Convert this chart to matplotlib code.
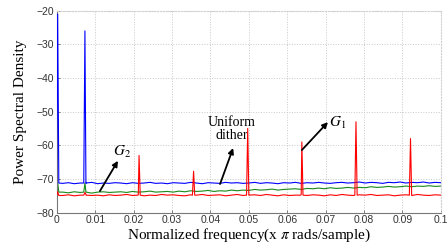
import numpy as np
import matplotlib
matplotlib.use('Agg')
import matplotlib.pyplot as plt

plt.rcParams['mathtext.fontset'] = 'stix'

# noise floor of each PSD trace, sampled on an even frequency grid
floor_freq = np.linspace(0.0015, 0.1, 66)

blue_floor = [-71.3, -71.1, -71.4, -71.2, -71.3, -71.0, -71.4, -71.2, -71.3, -71.1,
              -71.2, -71.4, -71.1, -71.3, -71.2, -71.0, -71.3, -71.2, -71.4, -71.1,
              -71.2, -71.3, -71.0, -71.2, -71.4, -71.1, -71.2, -71.3, -71.0, -71.2,
              -71.1, -71.3, -71.2, -71.0, -71.3, -71.1, -71.2, -71.4, -71.1, -71.2,
              -71.0, -71.3, -71.1, -71.2, -71.0, -71.2, -71.3, -71.1, -71.0, -71.2,
              -71.1, -70.9, -71.2, -71.0, -71.1, -71.3, -71.0, -71.1, -70.9, -71.2,
              -71.0, -71.1, -70.9, -71.2, -71.0, -71.1]

green_floor = [-73.9, -74.1, -73.8, -74.0, -73.9, -74.2, -73.9, -73.8, -74.0, -73.9,
               -73.8, -74.0, -73.7, -73.9, -73.8, -73.6, -73.9, -73.8, -73.7, -73.9,
               -73.6, -73.8, -73.5, -73.7, -73.6, -73.4, -73.7, -73.5, -73.6, -73.3,
               -73.5, -73.3, -73.4, -73.1, -73.3, -73.2, -73.0, -73.3, -73.1, -73.0,
               -72.9, -73.1, -72.8, -72.9, -72.7, -72.9, -72.6, -72.8, -72.7, -72.5,
               -72.7, -72.5, -72.6, -72.3, -72.5, -72.4, -72.2, -72.4, -72.3, -72.1,
               -72.3, -72.1, -72.2, -72.0, -72.2, -72.1]

red_floor = [-74.9, -74.7, -75.0, -74.8, -74.6, -74.9, -74.8, -75.0, -74.7, -74.9,
             -74.8, -74.6, -74.9, -74.7, -75.0, -74.8, -74.9, -74.6, -74.8, -74.7,
             -74.9, -75.0, -74.7, -74.8, -74.6, -74.9, -74.8, -74.7, -75.0, -74.8,
             -74.6, -74.9, -74.8, -74.7, -74.9, -74.6, -74.8, -75.0, -74.7, -74.9,
             -74.8, -74.6, -74.9, -74.7, -74.8, -75.0, -74.7, -74.9, -74.6, -74.8,
             -74.9, -74.7, -74.8, -74.6, -74.9, -74.8, -74.7, -75.0, -74.8, -74.7,
             -74.9, -74.6, -74.8, -74.9, -74.7, -74.8]

# spectral lines: (frequency, peak level, floor level at the line)
blue_peaks = [(0.0002, -21.0, -71.2), (0.0073, -26.0, -71.2)]
green_peaks = [(0.0002, -71.0, -73.9), (0.0073, -71.2, -73.9)]
red_peaks = [(0.0002, -73.8, -74.9), (0.0073, -74.0, -74.8),
             (0.0214, -63.0, -74.8), (0.0356, -67.7, -74.8), (0.0497, -55.0, -74.8),
             (0.0638, -59.0, -74.8), (0.0779, -53.0, -74.8), (0.0921, -58.0, -74.8)]

xticks = [0, 0.01, 0.02, 0.03, 0.04, 0.05, 0.06, 0.07, 0.08, 0.09, 0.1]
xticklabels = ['0', '0.01', '0.02', '0.03', '0.04', '0.05', '0.06', '0.07', '0.08', '0.09', '0.1']
yticks = [-80, -70, -60, -50, -40, -30, -20]


def trace(floor, peaks, hw=0.0003):
    xs = list(floor_freq)
    ys = list(floor)
    for f, top, base in peaks:
        xs += [f - hw, f, f + hw]
        ys += [base, top, base]
    order = np.argsort(xs, kind='stable')
    return np.asarray(xs)[order], np.asarray(ys)[order]


fig = plt.figure(figsize=(4.48, 2.49), dpi=100)
ax = fig.add_axes([0.127, 0.146, 0.857, 0.811])

for floor, peaks, col, z in [(green_floor, green_peaks, '#1a8a1a', 2),
                             (blue_floor, blue_peaks, '#0000ff', 3),
                             (red_floor, red_peaks, '#ff0000', 4)]:
    x, y = trace(floor, peaks)
    ax.plot(x, y, color=col, lw=0.8, zorder=z)

ax.set_xlim(0, 0.1)
ax.set_ylim(-80, -20)
ax.set_xticks(xticks)
ax.set_xticklabels(xticklabels)
ax.set_yticks(yticks)
ax.grid(True, linestyle=':', color='#c8c8c8', lw=0.7)
ax.tick_params(direction='in', length=2, width=0.5, colors='#555555',
               labelcolor='#333333', labelsize=7.5, pad=2)
for lab in ax.get_xticklabels() + ax.get_yticklabels():
    lab.set_family('Liberation Sans')
for s in ['top', 'right']:
    ax.spines[s].set_color('#d0d0d0')
    ax.spines[s].set_linestyle(':')
for s in ['left', 'bottom']:
    ax.spines[s].set_color('#777777')
    ax.spines[s].set_linewidth(0.8)

ax.set_xlabel(r'Normalized frequency(x $\pi$ rads/sample)', family='Liberation Serif',
              fontsize=11, labelpad=1)
ax.set_ylabel('Power Spectral Density', family='Liberation Serif', fontsize=11, labelpad=7)

arrow = dict(arrowstyle='-|>', color='black', lw=1.3, mutation_scale=8, shrinkA=0, shrinkB=0)
ax.annotate('', xy=(0.0159, -64.6), xytext=(0.0112, -73.6), arrowprops=arrow, zorder=6)
ax.text(0.0146, -62.0, r'$G_2$', fontsize=11, ha='left', va='center')
ax.annotate('', xy=(0.0459, -60.8), xytext=(0.0425, -71.5), arrowprops=arrow, zorder=6)
ax.text(0.0456, -55.2, 'Uniform\ndither', family='Liberation Serif', fontsize=10,
        ha='center', va='center', linespacing=1.05)
ax.annotate('', xy=(0.0706, -53.1), xytext=(0.0638, -61.4), arrowprops=arrow, zorder=6)
ax.text(0.0709, -53.3, r'$G_1$', fontsize=11, ha='left', va='center')

fig.savefig('out.png', dpi=100)
